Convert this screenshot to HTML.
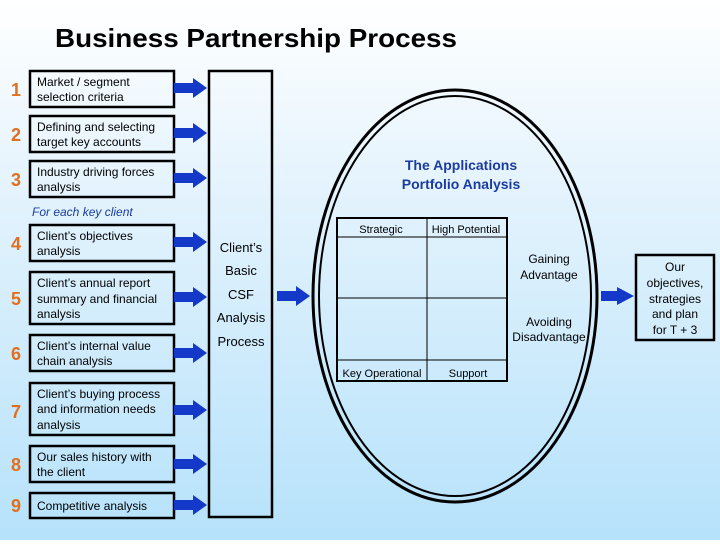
<!DOCTYPE html>
<html><head><meta charset="utf-8"><style>
html,body{margin:0;padding:0}
body{width:720px;height:540px;overflow:hidden;background:linear-gradient(#ffffff 0%,#e4f3fd 35%,#b6e2fb 100%);font-family:"Liberation Sans",sans-serif}
</style></head><body>
<svg width="720" height="540" xmlns="http://www.w3.org/2000/svg" font-family="Liberation Sans, sans-serif">
<defs>
<g id="ar"><polygon points="0,-5 19,-5 19,-10 33,0 19,10 19,5 0,5" fill="#1438c8"/></g>
</defs>
<text x="55" y="47" font-size="26" font-weight="bold" fill="#000" textLength="402" lengthAdjust="spacingAndGlyphs">Business Partnership Process</text>
<g fill="none" stroke="#000" stroke-width="2.5">
<rect x="30" y="71" width="144" height="36"/>
<rect x="30" y="116" width="144" height="36"/>
<rect x="30" y="161" width="144" height="36"/>
<rect x="30" y="225" width="144" height="36"/>
<rect x="30" y="272" width="144" height="52"/>
<rect x="30" y="335" width="144" height="36"/>
<rect x="30" y="383" width="144" height="52"/>
<rect x="30" y="446" width="144" height="36"/>
<rect x="30" y="493" width="144" height="25"/>
<rect x="209" y="71" width="63" height="446"/>
<rect x="636" y="255" width="78" height="85"/>
</g>
<g font-size="18" font-weight="bold" fill="#e07020" text-anchor="middle">
<text x="16" y="96">1</text><text x="16" y="141">2</text><text x="16" y="186">3</text>
<text x="16" y="250">4</text><text x="16" y="305">5</text><text x="16" y="360">6</text>
<text x="16" y="418">7</text><text x="16" y="471">8</text><text x="16" y="512">9</text>
</g>
<g font-size="12" fill="#000">
<text x="37" y="86">Market / segment</text><text x="37" y="101">selection criteria</text>
<text x="37" y="131">Defining and selecting</text><text x="37" y="146">target key accounts</text>
<text x="37" y="176">Industry driving forces</text><text x="37" y="191">analysis</text>
<text x="37" y="240">Client’s objectives</text><text x="37" y="255">analysis</text>
<text x="37" y="287">Client’s annual report</text><text x="37" y="303">summary and financial</text><text x="37" y="318">analysis</text>
<text x="37" y="350">Client’s internal value</text><text x="37" y="365">chain analysis</text>
<text x="37" y="398">Client’s buying process</text><text x="37" y="413">and information needs</text><text x="37" y="429">analysis</text>
<text x="37" y="461">Our sales history with</text><text x="37" y="476">the client</text>
<text x="37" y="510">Competitive analysis</text>
</g>
<text x="32" y="216" font-size="12" font-style="italic" fill="#1a3c9c">For each key client</text>
<g font-size="13" fill="#000" text-anchor="middle">
<text x="241" y="252">Client’s</text><text x="241" y="275">Basic</text><text x="241" y="299">CSF</text>
<text x="241" y="322">Analysis</text><text x="241" y="346">Process</text>
</g>
<g>
<use href="#ar" x="174" y="88"/><use href="#ar" x="174" y="133"/><use href="#ar" x="174" y="178"/>
<use href="#ar" x="174" y="242"/><use href="#ar" x="174" y="297"/><use href="#ar" x="174" y="353"/>
<use href="#ar" x="174" y="410"/><use href="#ar" x="174" y="464"/><use href="#ar" x="174" y="505"/>
<use href="#ar" x="277" y="296"/>
<polygon points="601,291 617,291 617,287 634,296 617,305 617,301 601,301" fill="#1438c8"/>
</g>
<ellipse cx="455" cy="296" rx="142" ry="206" fill="none" stroke="#000" stroke-width="3"/>
<ellipse cx="455" cy="296" rx="136" ry="200" fill="none" stroke="#000" stroke-width="2"/>
<text x="461" y="170" font-size="14" font-weight="bold" fill="#1a3ca0" text-anchor="middle">The Applications</text>
<text x="461" y="189" font-size="14" font-weight="bold" fill="#1a3ca0" text-anchor="middle">Portfolio Analysis</text>
<g fill="none" stroke="#000">
<rect x="337" y="218" width="170" height="163" stroke-width="2"/>
<line x1="337" y1="237" x2="507" y2="237"/><line x1="337" y1="298" x2="507" y2="298"/>
<line x1="337" y1="360" x2="507" y2="360"/><line x1="427" y1="218" x2="427" y2="381"/>
</g>
<g font-size="11" fill="#000" text-anchor="middle">
<text x="381" y="233">Strategic</text><text x="466" y="233">High Potential</text>
<text x="382" y="377">Key Operational</text><text x="468" y="377">Support</text>
</g>
<g font-size="12" fill="#000" text-anchor="middle">
<text x="549" y="263">Gaining</text><text x="549" y="279">Advantage</text>
<text x="549" y="326">Avoiding</text><text x="549" y="341">Disadvantage</text>
<text x="675" y="271">Our</text><text x="675" y="287">objectives,</text><text x="675" y="303">strategies</text>
<text x="675" y="318">and plan</text><text x="675" y="334">for T + 3</text>
</g>
</svg>
</body></html>
